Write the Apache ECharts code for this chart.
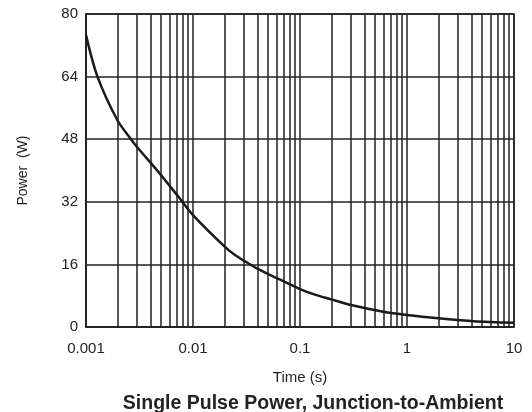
<!DOCTYPE html>
<html lang="en">
<head>
  <meta charset="utf-8">
  <title>Single Pulse Power</title>
  <script src="https://cdn.jsdelivr.net/npm/echarts@6/dist/echarts.min.js"></script>
  <style>
    html, body { margin: 0; padding: 0; background: #fff; }
    #chart { width: 532px; height: 412px; }
  </style>
</head>
<body>
  <div id="chart"></div>
  <script>
    // time (s) and single pulse power (W)
    var timeS = [0.001, 0.00128, 0.00196, 0.0026, 0.003, 0.0046, 0.0075, 0.01, 0.02, 0.0247,
                 0.031, 0.04, 0.05, 0.07, 0.1, 0.14, 0.2, 0.3, 0.6, 1, 2.05, 4.2, 10];
    var powerW = [74.6, 64, 52.9, 48.2, 46.0, 40.1, 32.9, 28.6, 20.4, 18.4,
                  16.7, 14.9, 13.6, 11.7, 9.7, 8.2, 7.0, 5.6, 3.9, 3.07, 2.2, 1.5, 1.1];
    var yTicks = [0, 16, 32, 48, 64, 80];

    var ink = '#222';
    var font = 'Liberation Sans, Arial, sans-serif';

    var chart = echarts.init(document.getElementById('chart'));
    chart.setOption({
      animation: false,
      title: {
        text: 'Single Pulse Power, Junction-to-Ambient',
        left: 308,
        top: 389,
        textAlign: 'center',
        textStyle: { fontFamily: font, fontWeight: 'bold', fontSize: 19.5, color: ink }
      },
      grid: {
        left: 86, right: 18, top: 14, bottom: 85,
        show: true, borderColor: ink, borderWidth: 1.5
      },
      xAxis: {
        type: 'log',
        logBase: 10,
        min: 0.001,
        max: 10,
        name: 'Time (s)',
        nameLocation: 'middle',
        nameGap: 43,
        nameTextStyle: { fontFamily: font, fontSize: 15, color: ink },
        axisLine: { show: true, lineStyle: { color: ink, width: 1.5 } },
        axisTick: { show: false },
        minorTick: { show: false, splitNumber: 9 },
        splitLine: { show: true, lineStyle: { color: ink, width: 1.5 } },
        minorSplitLine: { show: true, lineStyle: { color: ink, width: 1.5 } },
        axisLabel: {
          margin: 14,
          fontFamily: font, fontSize: 15, color: ink,
          formatter: function (v) { return String(+v.toPrecision(3)); }
        }
      },
      yAxis: {
        type: 'value',
        min: yTicks[0],
        max: yTicks[yTicks.length - 1],
        interval: 16,
        name: 'Power  (W)',
        nameLocation: 'middle',
        nameRotate: 90,
        nameGap: 56,
        nameTextStyle: { fontFamily: font, fontSize: 14, color: ink },
        axisLine: { show: true, lineStyle: { color: ink, width: 1.5 } },
        axisTick: { show: false },
        splitLine: { show: true, lineStyle: { color: ink, width: 1.5 } },
        axisLabel: { margin: 8, fontFamily: font, fontSize: 15, color: ink }
      },
      series: [{
        type: 'line',
        data: timeS.map(function (t, i) { return [t, powerW[i]]; }),
        smooth: 0.3,
        symbol: 'none',
        lineStyle: { color: '#1a1a1a', width: 2.5 },
        z: 5
      }]
    });
  </script>
</body>
</html>
